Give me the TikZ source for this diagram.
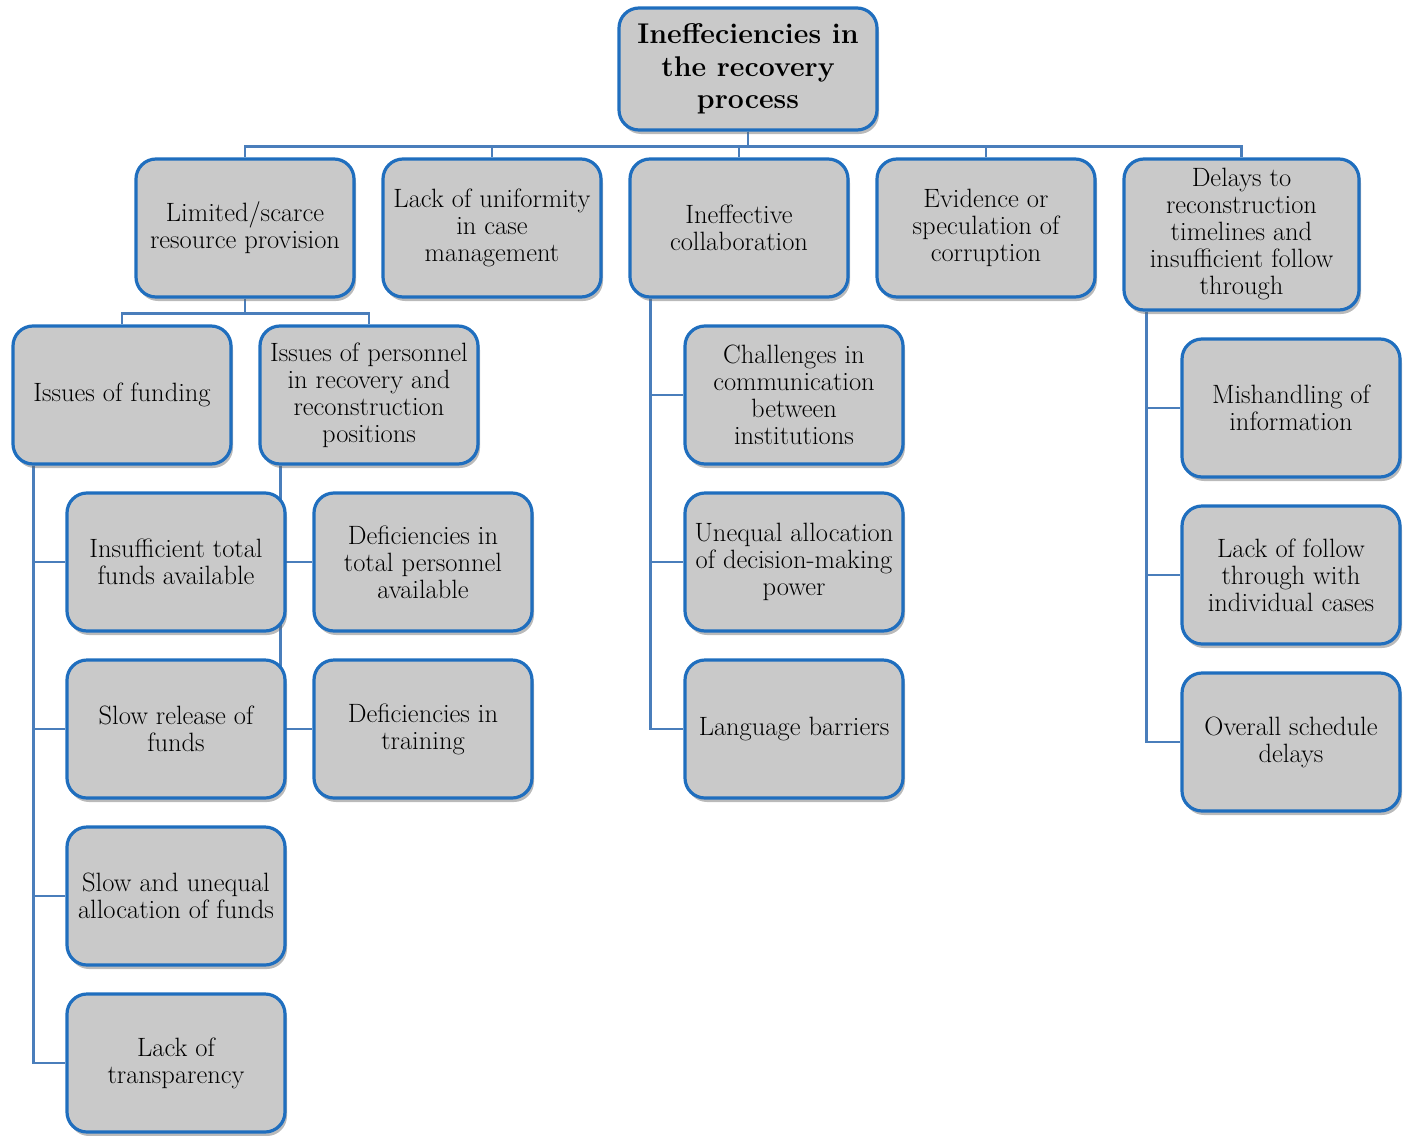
\documentclass[tikz,border=0pt]{standalone}
\usetikzlibrary{shadows,backgrounds}
\definecolor{boxblue}{HTML}{1F6EBE}
\definecolor{linkblue}{HTML}{4A7EBB}
\definecolor{boxgray}{HTML}{C9C9C9}
\tikzset{
  card/.style={draw=boxblue, line width=3.2pt, fill=boxgray, rounded corners=20pt,
    align=center, inner sep=2pt, font=\fontsize{26.5}{27}\selectfont,
    drop shadow={shadow xshift=2pt, shadow yshift=-4pt, opacity=0.45, fill=black!60}},
  link/.style={draw=linkblue, line width=2.8pt},
}
\newcommand{\card}[6]{% name, x1, y1, x2, y2, text
  \node[card, minimum width={(#4-#2)*1pt}, minimum height={(#5-#3)*1pt}] (#1) at ({(#2+#4)/2},{(#3+#5)/2}) {#6};}
\begin{document}
\begin{tikzpicture}[x=1pt,y=-1pt]
\useasboundingbox (0,0) rectangle (1405,1135);
% boxes
\node[card, minimum width=258pt, minimum height=122pt, font=\bfseries\fontsize{28.5}{32.5}\selectfont] (root) at (748,69) {Ineffeciencies in\\the recovery\\process};
\card{lim}{136}{159}{354}{297}{Limited/scarce\\resource provision}
\card{uni}{383}{159}{601}{297}{Lack of uniformity\\in case\\management}
\card{col}{630}{159}{848}{297}{Ineffective\\collaboration}
\card{cor}{877}{159}{1095}{297}{Evidence or\\speculation of\\corruption}
\card{del}{1124}{159}{1359}{310}{Delays to\\reconstruction\\timelines and\\insufficient follow\\through}
\card{fund}{13}{326}{231}{464}{Issues of funding}
\card{pers}{260}{326}{478}{464}{Issues of personnel\\in recovery and\\reconstruction\\positions}
\card{f1}{67}{493}{285}{631}{Insufficient total\\funds available}
\card{f2}{67}{660}{285}{798}{Slow release of\\funds}
\card{f3}{67}{827}{285}{965}{Slow and unequal\\allocation of funds}
\card{f4}{67}{994}{285}{1132}{Lack of\\transparency}
\card{p1}{314}{493}{532}{631}{Deficiencies in\\total personnel\\available}
\card{p2}{314}{660}{532}{798}{Deficiencies in\\training}
\card{c1}{685}{326}{903}{464}{Challenges in\\communication\\between\\institutions}
\card{c2}{685}{493}{903}{631}{Unequal allocation\\of decision-making\\power}
\card{c3}{685}{660}{903}{798}{Language barriers}
\card{d1}{1182}{339}{1400}{477}{Mishandling of\\information}
\card{d2}{1182}{506}{1400}{644}{Lack of follow\\through with\\individual cases}
\card{d3}{1182}{673}{1400}{811}{Overall schedule\\delays}
% connectors
\begin{scope}[on background layer]
\foreach \c in {lim,uni,col,cor,del}
  \draw[link] (root.south) -- ++(0,15) -| (\c.north);
\foreach \c in {fund,pers}
  \draw[link] (lim.south) -- ++(0,15) -| (\c.north);
\foreach \c in {f1,f2,f3,f4}
  \draw[link] ([xshift=22pt]fund.south west) |- (\c.west);
\foreach \c in {p1,p2}
  \draw[link] ([xshift=22pt]pers.south west) |- (\c.west);
\foreach \c in {c1,c2,c3}
  \draw[link] ([xshift=22pt]col.south west) |- (\c.west);
\foreach \c in {d1,d2,d3}
  \draw[link] ([xshift=24pt]del.south west) |- (\c.west);
\end{scope}
\end{tikzpicture}
\end{document}
